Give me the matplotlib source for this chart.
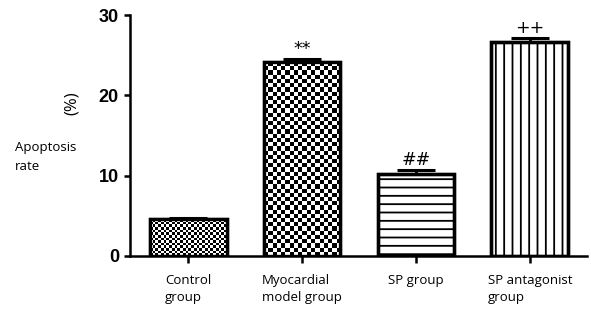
import numpy as np
import matplotlib
matplotlib.use("Agg")
import matplotlib.pyplot as plt

# data
groups = ["Control\ngroup", "Myocardial\nmodel group", "SP group", "SP antagonist\ngroup"]
rates = [4.6, 24.1, 10.2, 26.7]
errors = [0.15, 0.4, 0.45, 0.45]
marks = ["", "**", "##", "++"]

plt.rcParams["hatch.linewidth"] = 1.3

fig = plt.figure(figsize=(5.91, 3.14), dpi=100)
ax = fig.add_axes([0.22, 0.185, 0.773, 0.767])

x = np.arange(len(groups))
width = 0.675

# upper error bars only, the bar hides the rest
ax.errorbar(x, rates, yerr=[np.zeros(len(rates)), errors], fmt="none", ecolor="black",
            elinewidth=2, capsize=13.5, capthick=2.2, zorder=1)

bars = ax.bar(x, rates, width, color="white", edgecolor="black", linewidth=2.4, zorder=2)
bars[2].set_hatch("--")
bars[3].set_hatch("||")

# checkerboard fill for the first two bars
checks = {0: (28, 14), 1: (18, 46)}
for i, (nc, nr) in checks.items():
    p = bars[i]
    x0, w, h = p.get_x(), p.get_width(), p.get_height()
    board = (np.add.outer(np.arange(nr), np.arange(nc)) % 2).astype(float)
    im = ax.imshow(board, cmap="gray", extent=(x0, x0 + w, 0, h), origin="lower",
                   interpolation="nearest", aspect="auto", zorder=2.5)
    im.set_clip_path(p)

# outlines on top
ax.bar(x, rates, width, fill=False, edgecolor="black", linewidth=2.4, zorder=4)

for xi, r, e, m in zip(x, rates, errors, marks):
    if m:
        ax.text(xi, r + e + 1.3, m, ha="center", va="center", fontsize=12.5,
                family="DejaVu Sans")

ax.set_xlim(-0.51, 3.5)
ax.set_ylim(0, 30)
ax.set_yticks([0, 10, 20, 30])
ax.set_xticks(x)
ax.set_xticklabels(groups, family="Open Sans", fontsize=9.5, linespacing=1.4,
                   multialignment="left")
for lab in ax.get_yticklabels():
    lab.set_family("Liberation Sans")
    lab.set_fontweight("bold")
    lab.set_fontsize(13)

for s in ["top", "right"]:
    ax.spines[s].set_visible(False)
for s in ["left", "bottom"]:
    ax.spines[s].set_linewidth(1.8)
ax.tick_params(axis="y", width=1.8, length=4, pad=4)
ax.tick_params(axis="x", width=1.8, length=5, pad=8)

fig.text(0.122, 0.672, "(%)", rotation=90, ha="center", va="center",
         fontsize=12, family="Open Sans")
fig.text(0.025, 0.50, "Apoptosis\nrate", ha="left", va="center",
         fontsize=9.5, family="Open Sans", linespacing=1.6)

fig.savefig("out.png", dpi=100)
